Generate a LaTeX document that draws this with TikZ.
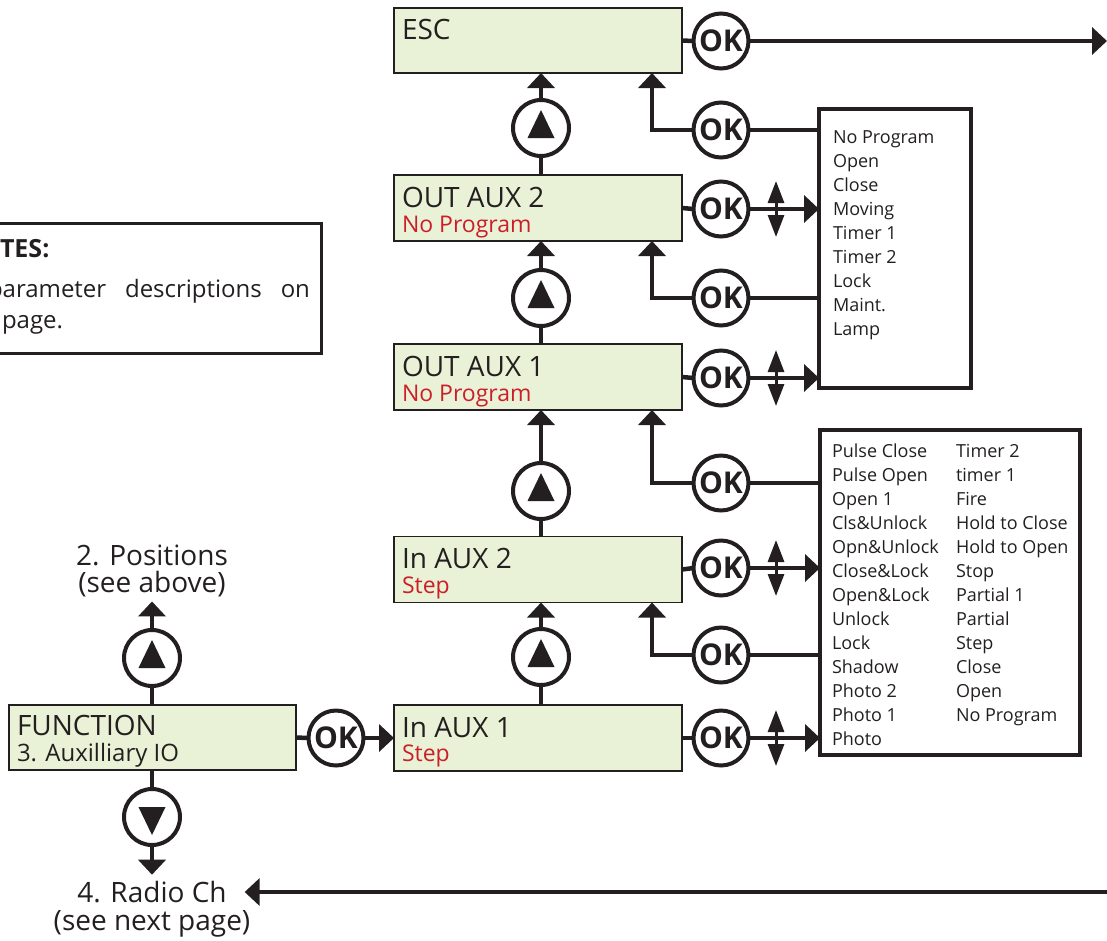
\documentclass[tikz,border=0pt]{standalone}
\usepackage{fontspec}
\setmainfont{Open Sans}
\usetikzlibrary{arrows.meta,calc}
\definecolor{lcd}{RGB}{233,242,214}
\definecolor{ink}{RGB}{35,31,32}
\definecolor{lcdred}{RGB}{204,30,40}
\begin{document}
\begin{tikzpicture}[x=1pt,y=-1pt,
  every node/.style={inner sep=0pt, outer sep=0pt, text=ink},
  lcdbox/.style={draw=ink, line width=1.6pt, fill=lcd, minimum width=288pt, minimum height=66pt, rectangle},
  okc/.style={circle, draw=ink, line width=4pt, minimum size=55pt, fill=white, font=\fontsize{30}{30}\selectfont\bfseries},
  upc/.style={circle, draw=ink, line width=4pt, minimum size=56pt, fill=white},
  conn/.style={draw=ink, line width=4.5pt},
  tipA/.style={-{Triangle[width=27pt,length=15pt]}},
  dbl/.style={draw=ink, line width=3pt, {Triangle[width=16pt,length=22pt]}-{Triangle[width=16pt,length=22pt]}},
  lbl/.style={anchor=base west, font=\fontsize{28}{32}\selectfont},
  sublbl/.style={anchor=base west, font=\fontsize{23}{26}\selectfont, text=lcdred},
  listbox/.style={draw=ink, line width=3.5pt, rectangle},
  listtxt/.style={anchor=base west, font=\fontsize{18}{24}\selectfont},
  side/.style={anchor=base, font=\fontsize{28}{32}\selectfont},
  notetxt/.style={anchor=base west, font=\fontsize{24}{30}\selectfont}
]
\useasboundingbox (0,0) rectangle (1107,940);

% LCD boxes
\node[lcdbox, minimum height=65pt] (esc) at (538,40.5) {};
\node[lcdbox] (out2) at (538,208) {};
\node[lcdbox] (out1) at (538,377) {};
\node[lcdbox] (in2) at (538,569.5) {};
\node[lcdbox] (in1) at (538,738) {};
\node[lcdbox, minimum width=287pt, minimum height=65pt] (func) at (152.5,737.5) {};

% box texts
\node[lbl] (escT) at ($(esc.north west)+(8,31)$) {ESC};
\node[lbl] (out2T) at ($(out2.north west)+(8,32)$) {OUT AUX 2};
\node[sublbl] (out2S) at ($(out2.north west)+(8,57)$) {No Program};
\node[lbl] (out1T) at ($(out1.north west)+(8,32)$) {OUT AUX 1};
\node[sublbl] (out1S) at ($(out1.north west)+(8,57)$) {No Program};
\node[lbl] (in2T) at ($(in2.north west)+(8,32)$) {In AUX 2};
\node[sublbl] (in2S) at ($(in2.north west)+(8,57)$) {Step};
\node[lbl] (in1T) at ($(in1.north west)+(8,32)$) {In AUX 1};
\node[sublbl] (in1S) at ($(in1.north west)+(8,56)$) {Step};
\node[lbl] (funcT) at ($(func.north west)+(8,30)$) {FUNCTION};
\node[lbl, font=\fontsize{24}{28}\selectfont] (funcS) at ($(func.north west)+(8,56)$) {3. Auxilliary IO};

% list boxes
\node[listbox, minimum width=152pt, minimum height=279pt, anchor=north west] (list1) at (819,109) {};
\node[listbox, minimum width=260pt, minimum height=325pt, anchor=north west] (list2) at (820,430) {};
\node[listtxt] (l1) at (833,143) {\begin{tabular}[t]{@{}l@{}}No Program\\Open\\Close\\Moving\\Timer 1\\Timer 2\\Lock\\Maint.\\Lamp\end{tabular}};
\node[listtxt] (l2a) at (832,457) {\begin{tabular}[t]{@{}l@{}}Pulse Close\\Pulse Open\\Open 1\\Cls\&Unlock\\Opn\&Unlock\\Close\&Lock\\Open\&Lock\\Unlock\\Lock\\Shadow\\Photo 2\\Photo 1\\Photo\end{tabular}};
\node[listtxt] (l2b) at (956,457) {\begin{tabular}[t]{@{}l@{}}Timer 2\\timer 1\\Fire\\Hold to Close\\Hold to Open\\Stop\\Partial 1\\Partial\\Step\\Close\\Open\\No Program\end{tabular}};

% OK buttons
\node[okc] (okE) at (721,41) {OK};
\node[okc] (okB1) at (721,130) {OK};
\node[okc] (okO2) at (721,209) {OK};
\node[okc] (okB2) at (721,298) {OK};
\node[okc] (okO1) at (721,378) {OK};
\node[okc] (okB3) at (721,483) {OK};
\node[okc] (okI2) at (721,568) {OK};
\node[okc] (okB4) at (721,655) {OK};
\node[okc] (okI1) at (721,738) {OK};
\node[okc] (okF) at (336,738) {OK};

% up / down buttons
\node[upc] (u1) at (541,128) {};
\node[upc] (u2) at (541,298) {};
\node[upc] (u3) at (541,491) {};
\node[upc] (u4) at (541,657) {};
\node[upc] (fu) at (152,658) {};
\node[upc] (fd) at (152,817) {};
\foreach \n in {u1,u2,u3,u4,fu}
  \fill[ink, shift={(\n.center)}] (0,-18) -- (13.5,10) -- (-13.5,10) -- cycle;
\fill[ink, shift={(fd.center)}] (0,18) -- (13.5,-10) -- (-13.5,-10) -- cycle;

% side labels
\node[side] (pos1) at (152,565) {2. Positions};
\node[side] (pos2) at (152,592) {(see above)};
\node[side] (radio1) at (152,902) {4. Radio Ch};
\node[side] (radio2) at (152,930) {(see next page)};

% notes box
\node[draw=ink, line width=3pt, rectangle, minimum width=345pt, minimum height=130pt, anchor=north east] (notes) at (321.5,223.5) {};
\node[anchor=base west, font=\fontsize{25}{30}\selectfont\bfseries] (notesT) at (0,257) {TES:};
\node[notetxt] (notes1) at (-12,297) {\makebox[322pt][s]{parameter descriptions on}};
\node[notetxt] (notes2) at (2,328) {page.};

% free ends
\coordinate (escout) at (1107,41);
\coordinate (radioin) at (1107,892);

% connectors: ESC row
\draw[conn] (esc.east) -- (okE.west);
\draw[conn,tipA] (okE.east) -- (escout);
\draw[conn] (okB1.east) -- (okB1.east -| list1.west);
\draw[conn,tipA] (okB1.west) -| ($(esc.south east)+(-30,0)$);
% OUT AUX 2
\draw[conn] (out2.east) -- (okO2.west);
\draw[conn,tipA] (okO2.east) -- (okO2.east -| list1.west);
\draw[dbl] ($(okO2.center)+(55,-28)$) -- ($(okO2.center)+(55,28)$);
\draw[conn] (okB2.east) -- (okB2.east -| list1.west);
\draw[conn,tipA] (okB2.west) -| ($(out2.south east)+(-30,0)$);
% OUT AUX 1
\draw[conn] (out1.east) -- (okO1.west);
\draw[conn,tipA] (okO1.east) -- (okO1.east -| list1.west);
\draw[dbl] ($(okO1.center)+(55,-28)$) -- ($(okO1.center)+(55,28)$);
\draw[conn] (okB3.east) -- (okB3.east -| list2.west);
\draw[conn,tipA] (okB3.west) -| ($(out1.south east)+(-30,0)$);
% In AUX 2
\draw[conn] (in2.east) -- (okI2.west);
\draw[conn,tipA] (okI2.east) -- (okI2.east -| list2.west);
\draw[dbl] ($(okI2.center)+(55,-28)$) -- ($(okI2.center)+(55,28)$);
\draw[conn] (okB4.east) -- (okB4.east -| list2.west);
\draw[conn,tipA] (okB4.west) -| ($(in2.south east)+(-30,0)$);
% In AUX 1
\draw[conn] (in1.east) -- (okI1.west);
\draw[conn,tipA] (okI1.east) -- (okI1.east -| list2.west);
\draw[dbl] ($(okI1.center)+(55,-28)$) -- ($(okI1.center)+(55,28)$);

% up chain
\draw[conn] (out2.north -| u1) -- (u1.south);
\draw[conn,tipA] (u1.north) -- (u1.north |- esc.south);
\draw[conn] (out1.north -| u2) -- (u2.south);
\draw[conn,tipA] (u2.north) -- (u2.north |- out2.south);
\draw[conn] (in2.north -| u3) -- (u3.south);
\draw[conn,tipA] (u3.north) -- (u3.north |- out1.south);
\draw[conn] (in1.north -| u4) -- (u4.south);
\draw[conn,tipA] (u4.north) -- (u4.north |- in2.south);

% FUNCTION
\draw[conn] (func.north -| fu) -- (fu.south);
\draw[conn,tipA] (fu.north) -- ($(pos2.south)+(0,5)$);
\draw[conn] (func.south -| fd) -- (fd.north);
\draw[conn,tipA] (fd.south) -- ($(radio1.north)+(0,-6)$);
\draw[conn] (func.east) -- (okF.west);
\draw[conn,tipA] (okF.east) -- (okF.east -| in1.west);
\draw[conn,tipA] (radioin) -- ($(radioin -| radio1.east)+(18,0)$);
\end{tikzpicture}
\end{document}
